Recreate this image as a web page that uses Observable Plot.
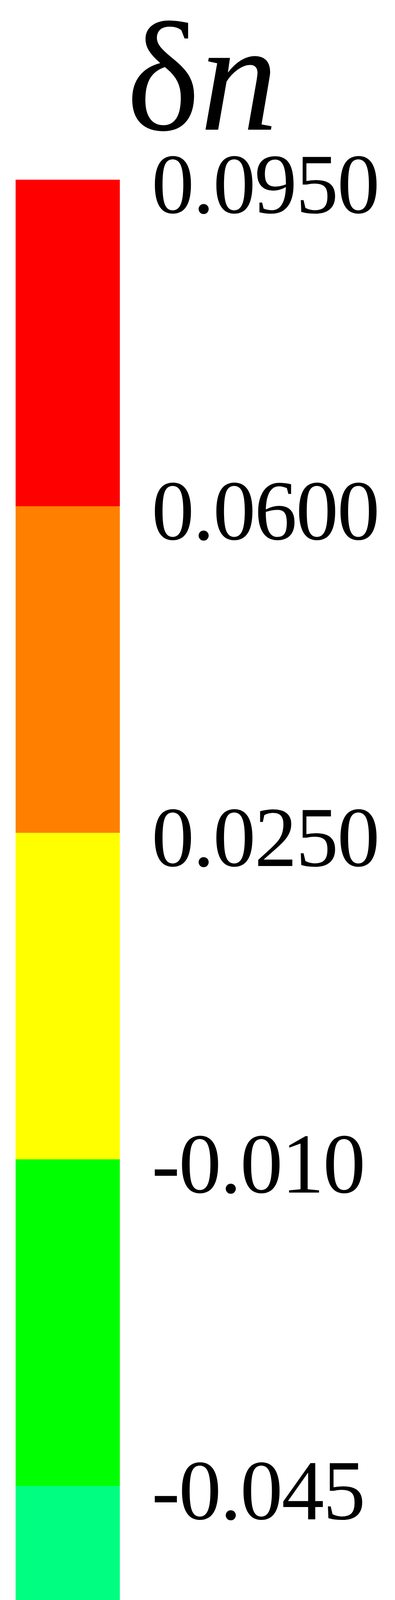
<!DOCTYPE html>
<html>
<head>
<meta charset="utf-8">
<script src="https://cdn.jsdelivr.net/npm/d3@7"></script>
<script src="https://cdn.jsdelivr.net/npm/@observablehq/plot@0.6"></script>
<style>
  html, body { margin: 0; padding: 0; background: #ffffff; }
  #chart svg { display: block; }
</style>
</head>
<body>
<div id="chart"></div>
<script>
// Contour level boundaries (top to bottom) and their tick labels
const boundaries = [0.095, 0.06, 0.025, -0.01, -0.045, -0.08, -0.115, -0.15, -0.185];
const tickLabels = ["0.0950", "0.0600", "0.0250", "-0.010", "-0.045", "-0.080", "-0.115", "-0.150", "-0.185"];
// Fill colour of each band, top band first
const bandColors = ["#ff0000", "#ff8000", "#ffff00", "#00ff00", "#00ff80", "#00ffff", "#0080ff", "#0000ff"];
const titleMain = "δ";
const titleItalic = "n";

const bands = bandColors.map((c, i) => ({hi: boundaries[i], lo: boundaries[i + 1], color: c}));
const ticks = boundaries.map((v, i) => ({value: v, label: tickLabels[i]}));

const serif = "'Liberation Serif', 'Times New Roman', Times, serif";

const chart = Plot.plot({
  width: 1012,
  height: 7277,
  marginTop: 0, marginRight: 0, marginBottom: 0, marginLeft: 0,
  style: {background: "#ffffff"},
  x: {domain: [0, 1], range: [40, 307], axis: null},
  y: {domain: [-0.185, 0.095], range: [7148, 460], axis: null},
  color: {type: "identity"},
  marks: [
    Plot.rect(bands, {x1: () => 0, x2: () => 1, y1: "lo", y2: "hi", fill: "color"}),
    Plot.text(ticks, {
      x: () => 1, y: "value", text: "label",
      textAnchor: "start", lineAnchor: "middle",
      dx: 81, dy: 15,
      fontSize: 218, fontFamily: serif, fill: "#000000"
    })
  ]
});

const svg = d3.select(chart);
svg.selectAll("text").style("letter-spacing", "-3px");
const title = svg.append("text")
  .attr("x", 518).attr("y", 332)
  .attr("text-anchor", "middle")
  .attr("fill", "#000000")
  .style("font-family", serif)
  .style("font-size", "400px");
title.append("tspan").text(titleMain);
title.append("tspan").style("font-style", "italic").text(titleItalic);

document.getElementById("chart").appendChild(chart);
</script>
</body>
</html>
